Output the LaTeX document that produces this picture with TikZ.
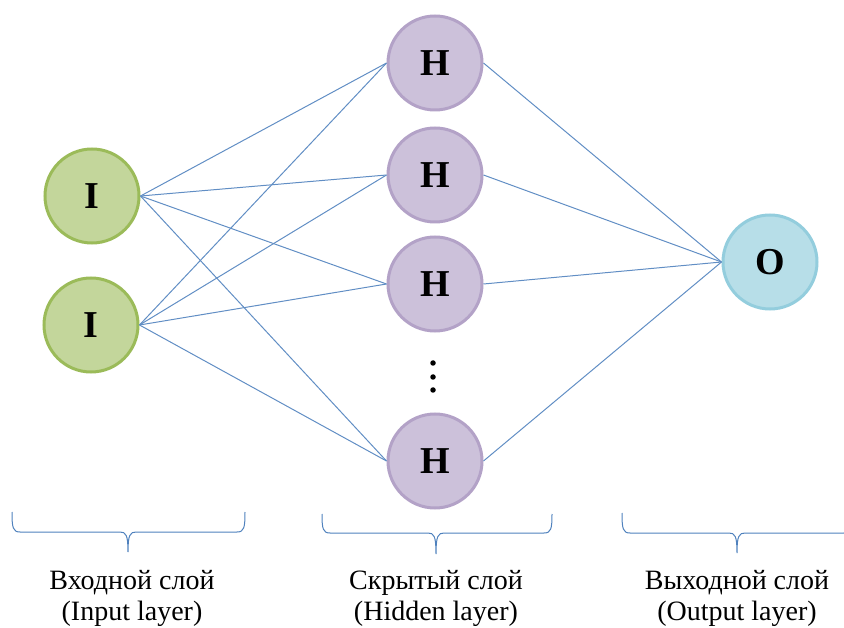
\documentclass[tikz,border=0pt]{standalone}
\usepackage{fontspec}
\setmainfont{Liberation Serif}
\definecolor{inputfill}{HTML}{C3D69B}
\definecolor{inputline}{HTML}{9BBB59}
\definecolor{hiddenfill}{HTML}{CCC1DA}
\definecolor{hiddenline}{HTML}{B3A2C7}
\definecolor{outfill}{HTML}{B7DEE8}
\definecolor{outline}{HTML}{93CDDD}
\definecolor{linkblue}{HTML}{4F81BD}
\begin{document}
\begin{tikzpicture}[x=1pt,y=-1pt,
  neuron/.style={circle,minimum size=94pt,inner sep=0pt,line width=3pt,
    font=\fontsize{38}{40}\selectfont\bfseries},
  inneuron/.style={neuron,draw=inputline,fill=inputfill},
  hidneuron/.style={neuron,draw=hiddenline,fill=hiddenfill},
  outneuron/.style={neuron,draw=outline,fill=outfill},
  link/.style={draw=linkblue!90,line width=1pt},
  bracket/.style={draw=linkblue,line width=1pt},
  caption/.style={align=center,anchor=base,font=\fontsize{28}{31}\selectfont}]
  \useasboundingbox (0,0) rectangle (844,628);
  \clip (0,0) rectangle (844,628);

  % Input layer
  \node[inneuron] (in1) at (92,196) {I};
  \node[inneuron] (in2) at (91,325) {I};

  % Hidden layer
  \node[hidneuron] (hid1) at (435,63) {H};
  \node[hidneuron] (hid2) at (435,175) {H};
  \node[hidneuron] (hid3) at (435,284) {H};
  \node[hidneuron] (hid4) at (435,461) {H};

  \node[circle,fill=black,inner sep=0pt,minimum size=5.5pt] (dot1) at (433,363) {};
  \node[circle,fill=black,inner sep=0pt,minimum size=5.5pt] (dot2) at (433,377) {};
  \node[circle,fill=black,inner sep=0pt,minimum size=5.5pt] (dot3) at (433,390) {};

  % Output layer
  \node[outneuron] (out1) at (770,262) {O};

  \draw[link] (in1.east) -- (hid1.west);
  \draw[link] (in1.east) -- (hid2.west);
  \draw[link] (in1.east) -- (hid3.west);
  \draw[link] (in1.east) -- (hid4.west);
  \draw[link] (in2.east) -- (hid1.west);
  \draw[link] (in2.east) -- (hid2.west);
  \draw[link] (in2.east) -- (hid3.west);
  \draw[link] (in2.east) -- (hid4.west);

  \draw[link] (hid1.east) -- (out1.west);
  \draw[link] (hid2.east) -- (out1.west);
  \draw[link] (hid3.east) -- (out1.west);
  \draw[link] (hid4.east) -- (out1.west);

  % Braces
  \draw[bracket] (12,512) .. controls (12,528) and (13,532) .. (20,532) -- (120,532)
    .. controls (126,532) and (128,535) .. (128,552)
    .. controls (128,535) and (130,532) .. (136,532) -- (237,532)
    .. controls (244,532) and (245,528) .. (245,512);
  \draw[bracket] (322,514) .. controls (322,529) and (323,533) .. (330,533) -- (428,533)
    .. controls (434,533) and (436,536) .. (436,554)
    .. controls (436,536) and (438,533) .. (444,533) -- (544,533)
    .. controls (551,533) and (552,529) .. (552,514);
  \draw[bracket] (622,513) .. controls (622,529) and (623,533) .. (630,533) -- (729,533)
    .. controls (735,533) and (737,536) .. (737,553)
    .. controls (737,536) and (739,533) .. (745,533) -- (844,533)
    .. controls (851,533) and (852,529) .. (852,513);

  \node[caption] (lbl1) at (132,620) {Входной слой\\(Input layer)};
  \node[caption] (lbl2) at (436,620) {Скрытый слой\\(Hidden layer)};
  \node[caption] (lbl3) at (737,620) {Выходной слой\\(Output layer)};

\end{tikzpicture}
\end{document}
